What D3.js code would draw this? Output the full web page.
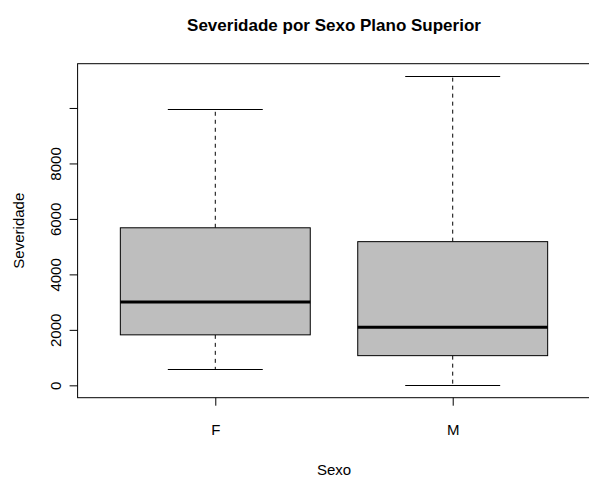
<!DOCTYPE html>
<html>
<head>
<meta charset="utf-8">
<script src="https://cdn.jsdelivr.net/npm/d3@7"></script>
<style>
  body { margin: 0; background: #fff; }
  text { font-family: "Liberation Sans", Arial, sans-serif; fill: #000; }
</style>
</head>
<body>
<div id="chart"></div>
<script>
// Box statistics
var categories = ["F", "M"];
var whiskerLow = [580, 0];
var q1 = [1820, 1070];
var median = [3000, 2090];
var q3 = [5680, 5180];
var whiskerHigh = [9960, 11150];

var yTicks = [0, 2000, 4000, 6000, 8000, 10000];
var yTickLabels = ["0", "2000", "4000", "6000", "8000", ""];

var width = 589, height = 478;
var plot = { left: 77.6, right: 590.4, top: 63.7, bottom: 397.7 };

var svg = d3.select("#chart")
  .append("svg")
  .attr("width", width)
  .attr("height", height);

// R style: 4% padding round the data range
var lo = d3.min(whiskerLow), hi = d3.max(whiskerHigh);
var pad = (hi - lo) * 0.04;
var y = d3.scaleLinear()
  .domain([lo - pad, hi + pad])
  .range([plot.bottom, plot.top]);

var x = d3.scaleLinear()
  .domain([0.5 - 0.08, categories.length + 0.5 + 0.08])
  .range([plot.left, plot.right]);

var boxes = categories.map(function (c, i) {
  return { cat: c, pos: i + 1, lo: whiskerLow[i], q1: q1[i], med: median[i], q3: q3[i], hi: whiskerHigh[i] };
});

var g = svg.append("g");

// whiskers (dashed)
g.selectAll(".whisk-up")
  .data(boxes).enter()
  .append("line")
  .attr("x1", function (d) { return x(d.pos); })
  .attr("x2", function (d) { return x(d.pos); })
  .attr("y1", function (d) { return y(d.q3); })
  .attr("y2", function (d) { return y(d.hi); })
  .attr("stroke", "#000")
  .attr("stroke-dasharray", "4,4");

g.selectAll(".whisk-down")
  .data(boxes).enter()
  .append("line")
  .attr("x1", function (d) { return x(d.pos); })
  .attr("x2", function (d) { return x(d.pos); })
  .attr("y1", function (d) { return y(d.q1); })
  .attr("y2", function (d) { return y(d.lo); })
  .attr("stroke", "#000")
  .attr("stroke-dasharray", "4,4");

// caps
["hi", "lo"].forEach(function (k) {
  g.selectAll(".cap-" + k)
    .data(boxes).enter()
    .append("line")
    .attr("x1", function (d) { return x(d.pos - 0.2); })
    .attr("x2", function (d) { return x(d.pos + 0.2); })
    .attr("y1", function (d) { return Math.round(y(d[k])) + 0.5; })
    .attr("y2", function (d) { return Math.round(y(d[k])) + 0.5; })
    .attr("stroke", "#000");
});

// boxes
g.selectAll(".box")
  .data(boxes).enter()
  .append("rect")
  .attr("x", function (d) { return x(d.pos - 0.4); })
  .attr("width", function (d) { return x(d.pos + 0.4) - x(d.pos - 0.4); })
  .attr("y", function (d) { return y(d.q3); })
  .attr("height", function (d) { return y(d.q1) - y(d.q3); })
  .attr("fill", "#bebebe")
  .attr("stroke", "#000");

// medians
g.selectAll(".med")
  .data(boxes).enter()
  .append("line")
  .attr("x1", function (d) { return x(d.pos - 0.4); })
  .attr("x2", function (d) { return x(d.pos + 0.4); })
  .attr("y1", function (d) { return y(d.med); })
  .attr("y2", function (d) { return y(d.med); })
  .attr("stroke", "#000")
  .attr("stroke-width", 3);

// frame
svg.append("rect")
  .attr("x", plot.left)
  .attr("y", plot.top)
  .attr("width", plot.right - plot.left)
  .attr("height", plot.bottom - plot.top)
  .attr("fill", "none")
  .attr("stroke", "#000");

// y axis
var yAxis = svg.append("g")
  .attr("transform", "translate(" + plot.left + ",0)")
  .call(d3.axisLeft(y)
    .tickValues(yTicks)
    .tickSize(8)
    .tickFormat(function (d, i) { return yTickLabels[i]; }));
yAxis.select(".domain").remove();
yAxis.selectAll(".tick line").attr("stroke", "#000");
yAxis.selectAll("text")
  .attr("font-size", 15)
  .attr("font-family", "Liberation Sans, Arial, sans-serif")
  .attr("fill", "#000")
  .attr("text-anchor", "middle")
  .attr("x", null)
  .attr("dy", null)
  .attr("y", null)
  .attr("transform", "translate(-17,0) rotate(-90)");

// x axis
var xAxis = svg.append("g")
  .attr("transform", "translate(0," + plot.bottom + ")")
  .call(d3.axisBottom(x)
    .tickValues(boxes.map(function (d) { return d.pos; }))
    .tickSize(8)
    .tickFormat(function (d) { return categories[d - 1]; }));
xAxis.select(".domain").remove();
xAxis.selectAll(".tick line").attr("stroke", "#000");
xAxis.selectAll("text")
  .attr("font-size", 15)
  .attr("font-family", "Liberation Sans, Arial, sans-serif")
  .attr("fill", "#000")
  .attr("y", 37)
  .attr("dy", 0);

// title and axis labels
var cx = (plot.left + plot.right) / 2;
svg.append("text")
  .attr("x", cx)
  .attr("y", 31)
  .attr("text-anchor", "middle")
  .attr("font-size", 17)
  .attr("font-weight", "bold")
  .text("Severidade por Sexo Plano Superior");

svg.append("text")
  .attr("x", cx)
  .attr("y", 475)
  .attr("text-anchor", "middle")
  .attr("font-size", 15)
  .text("Sexo");

svg.append("text")
  .attr("transform", "translate(24," + (plot.top + plot.bottom) / 2 + ") rotate(-90)")
  .attr("text-anchor", "middle")
  .attr("font-size", 15)
  .text("Severidade");
</script>
</body>
</html>
